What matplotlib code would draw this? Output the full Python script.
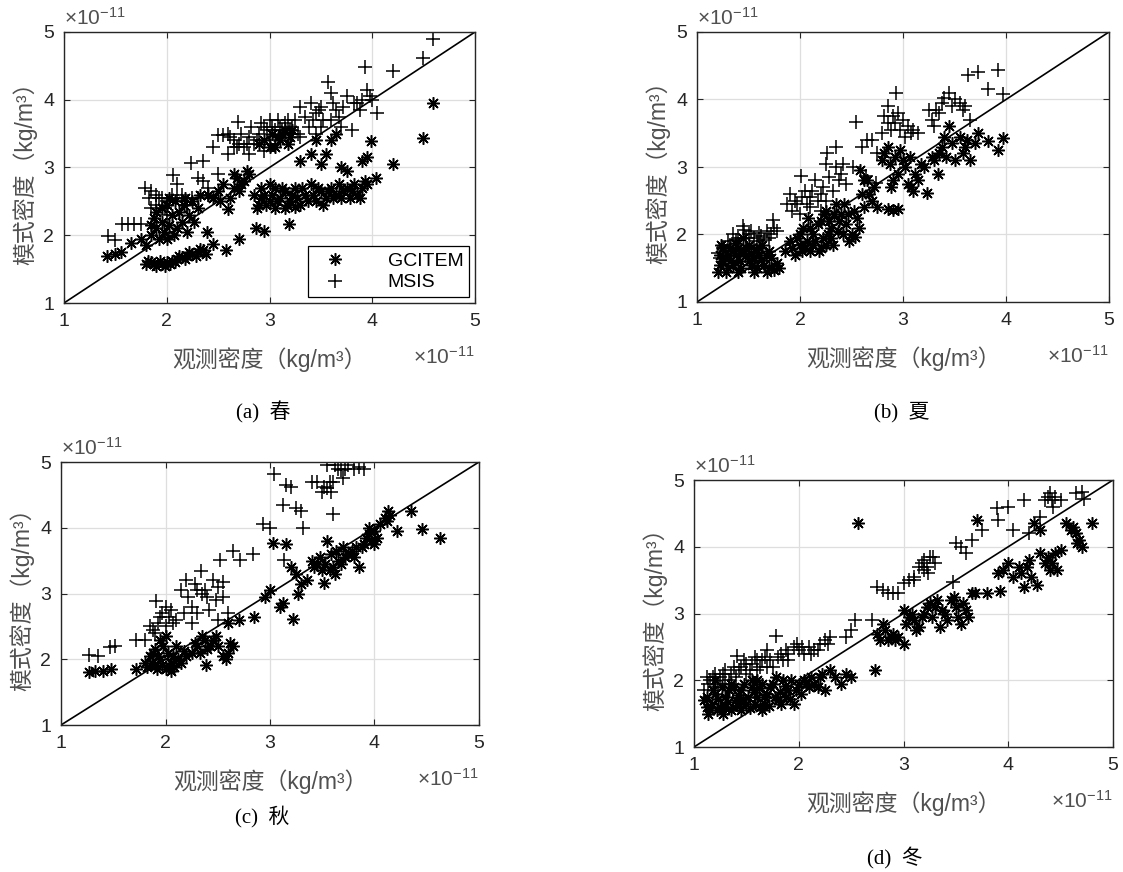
"""
Model vs observed thermospheric density, four seasons (scatter + y=x line).
"""

import numpy as np
import matplotlib
matplotlib.use('Agg')
import matplotlib.pyplot as plt
from matplotlib.lines import Line2D

plt.rcParams['font.family'] = ['Liberation Sans', 'Noto Sans CJK SC', 'DejaVu Sans']
plt.rcParams['axes.unicode_minus'] = False

# values in units of 1e-11 kg/m^3, (observed, model)
spring_gcitem = np.array([
    (1.42, 1.70), (1.50, 1.72), (1.55, 1.75), (1.65, 1.88), (1.75, 1.95),
    (1.80, 1.58), (1.85, 1.60), (1.90, 1.55), (1.95, 1.58), (2.00, 1.60), (2.05, 1.62),
    (2.10, 1.65), (2.15, 1.68), (2.20, 1.70), (2.25, 1.72), (2.30, 1.75), (2.35, 1.78),
    (2.39, 2.05), (2.45, 1.87), (2.58, 1.78), (2.70, 1.95), (2.87, 2.10), (2.95, 2.07),
    (3.19, 2.16), (1.85, 2.00), (1.90, 2.10), (1.95, 2.20), (2.00, 1.95), (2.05, 2.30),
    (2.10, 2.10), (2.15, 2.20), (2.20, 2.05), (2.25, 2.50), (1.90, 2.35), (2.00, 2.45),
    (2.30, 2.40), (2.40, 2.60), (2.50, 2.65), (2.55, 2.75), (2.60, 2.39), (2.65, 2.90),
    (2.70, 2.65), (2.75, 2.80), (2.80, 2.90), (2.85, 2.60), (2.90, 2.45), (2.95, 2.60),
    (3.00, 2.50), (3.05, 2.70), (3.10, 2.55), (3.15, 2.65), (3.20, 2.50), (3.25, 2.70),
    (3.30, 2.45), (3.35, 2.60), (3.40, 2.75), (3.45, 2.50), (3.50, 2.65), (3.55, 2.55),
    (3.60, 2.70), (3.65, 2.60), (3.70, 2.55), (3.75, 2.70), (3.80, 2.65), (3.85, 2.60),
    (3.90, 2.70), (3.95, 2.75), (3.15, 3.55), (3.10, 3.40), (3.05, 3.30), (3.20, 3.45),
    (3.00, 3.30), (2.90, 3.35), (3.30, 3.10), (3.40, 3.20), (3.45, 3.40), (3.50, 3.05),
    (3.55, 3.20), (3.60, 3.40), (3.65, 3.50), (3.70, 3.00), (3.75, 2.95), (3.90, 3.10),
    (3.95, 3.15), (3.99, 3.39), (4.04, 2.85), (4.20, 3.05), (4.49, 3.44), (4.59, 3.95),
    (1.82, 1.62), (1.88, 1.57), (1.93, 1.62), (1.98, 1.55), (2.03, 1.58), (2.08, 1.60),
    (2.12, 1.70), (2.18, 1.65), (2.22, 1.75), (2.28, 1.70), (2.32, 1.80), (2.38, 1.72),
    (1.80, 1.85), (1.85, 2.15), (1.88, 2.25), (1.92, 1.95), (1.97, 2.05), (2.02, 2.15),
    (2.07, 2.00), (2.12, 2.35), (2.17, 2.45), (2.22, 2.30), (2.27, 2.20), (2.32, 2.60),
    (2.18, 2.55), (2.08, 2.50), (1.95, 2.40), (2.02, 2.55), (2.62, 2.55), (2.65, 2.70),
    (2.68, 2.85), (2.72, 2.75), (2.78, 2.95), (2.45, 2.55), (2.52, 2.50), (2.92, 2.55),
    (2.97, 2.45), (3.02, 2.60), (3.07, 2.50), (3.12, 2.70), (3.17, 2.45), (3.22, 2.60),
    (3.27, 2.55), (3.32, 2.70), (3.37, 2.50), (3.42, 2.60), (3.47, 2.70), (3.52, 2.45),
    (3.57, 2.65), (3.62, 2.55), (3.68, 2.75), (3.72, 2.65), (3.78, 2.55), (3.82, 2.75),
    (3.88, 2.55), (3.93, 2.80), (3.05, 2.40), (3.15, 2.40), (3.25, 2.42), (2.88, 2.40),
    (2.92, 2.70), (3.00, 2.75), (3.08, 3.45), (3.12, 3.50), (3.18, 3.35), (3.22, 3.55),
    (2.95, 3.40), (3.02, 3.50),
])
spring_msis = np.array([
    (1.43, 1.99), (1.50, 1.93), (1.56, 2.17), (1.62, 2.17), (1.68, 2.17), (1.75, 2.17),
    (1.79, 2.70), (1.85, 2.65), (1.90, 2.60), (1.95, 2.55), (2.00, 2.50), (2.06, 2.89),
    (2.10, 2.75), (2.15, 2.60), (2.20, 2.45), (2.24, 3.07), (2.30, 2.85), (2.35, 3.10),
    (2.35, 2.80), (2.40, 2.70), (2.45, 3.30), (2.50, 3.48), (2.55, 3.48), (2.60, 3.50),
    (2.65, 3.40), (2.69, 3.67), (2.75, 3.30), (2.80, 3.20), (2.85, 3.35), (2.90, 3.50),
    (2.95, 3.60), (3.00, 3.70), (3.05, 3.55), (3.10, 3.60), (3.15, 3.50), (3.20, 3.55),
    (3.25, 3.70), (3.30, 3.90), (3.35, 3.75), (3.40, 3.95), (3.45, 3.80), (3.50, 3.90),
    (3.57, 4.26), (3.60, 4.10), (3.65, 3.85), (3.70, 3.60), (3.75, 4.05), (3.80, 3.55),
    (3.85, 3.95), (3.90, 4.00), (3.93, 4.48), (3.95, 4.15), (4.00, 4.00), (4.05, 3.80),
    (4.20, 4.43), (4.49, 4.62), (4.59, 4.90), (1.85, 2.40), (1.90, 2.45), (2.00, 2.30),
    (2.10, 2.55), (2.20, 2.45), (2.30, 2.55), (2.40, 2.60), (2.50, 2.90), (2.60, 3.20),
    (2.70, 3.35), (2.80, 3.45), (3.00, 3.40), (3.30, 3.45), (3.45, 3.50), (3.50, 3.60),
    (3.60, 3.70), (2.65, 3.30), (2.95, 3.25), (3.15, 3.65), (1.92, 2.55), (1.98, 2.40),
    (2.05, 2.60), (2.15, 2.50), (2.25, 2.55), (1.83, 2.55), (2.62, 3.45), (2.68, 3.30),
    (2.72, 3.50), (2.78, 3.35), (2.82, 3.60), (2.88, 3.40), (2.92, 3.65), (2.98, 3.55),
    (3.02, 3.60), (3.08, 3.70), (3.12, 3.55), (3.18, 3.70), (3.22, 3.60), (3.28, 3.50),
    (3.38, 3.60), (3.42, 3.70), (3.48, 3.85), (3.52, 3.70), (3.62, 3.95), (3.68, 3.75),
    (3.72, 3.90), (3.82, 3.95), (3.88, 3.85), (3.98, 4.05),
])

summer_gcitem = np.array([
    (1.20, 1.45), (1.25, 1.60), (1.30, 1.70), (1.35, 1.55), (1.40, 1.45), (1.45, 1.75),
    (1.50, 1.60), (1.55, 1.45), (1.60, 1.70), (1.65, 1.55), (1.70, 1.50), (1.75, 1.48),
    (1.80, 1.50), (1.25, 1.80), (1.40, 1.80), (1.50, 1.85), (1.60, 1.80), (1.70, 1.75),
    (1.30, 1.50), (1.55, 1.65), (1.22, 1.70), (1.35, 1.75), (1.85, 1.75), (1.90, 1.90),
    (1.95, 1.70), (2.00, 1.85), (2.05, 1.80), (2.10, 1.75), (2.15, 1.90), (2.20, 1.80),
    (2.25, 1.85), (2.30, 1.95), (2.00, 2.00), (2.10, 2.10), (2.20, 2.20), (2.25, 2.35),
    (2.30, 2.10), (2.35, 2.45), (2.40, 2.30), (2.45, 2.15), (2.50, 2.00), (2.53, 1.96),
    (2.55, 2.25), (2.60, 2.60), (2.65, 2.80), (2.70, 2.50), (2.75, 2.40), (2.85, 2.38),
    (2.90, 2.37), (2.95, 2.38), (2.80, 3.10), (2.85, 3.30), (2.90, 2.80), (2.95, 2.90),
    (3.00, 3.10), (3.05, 2.75), (3.10, 2.65), (3.15, 2.80), (3.20, 3.00), (3.23, 2.62),
    (3.30, 3.10), (3.34, 2.90), (3.35, 3.20), (3.40, 3.45), (3.45, 3.60), (3.50, 3.10),
    (3.55, 3.45), (3.60, 3.30), (3.65, 3.10), (3.70, 3.35), (3.73, 3.50), (3.83, 3.38),
    (3.92, 3.25), (3.97, 3.43), (1.22, 1.55), (1.27, 1.65), (1.28, 1.45), (1.32, 1.80),
    (1.33, 1.62), (1.38, 1.70), (1.42, 1.60), (1.43, 1.50), (1.47, 1.68), (1.48, 1.80),
    (1.52, 1.72), (1.53, 1.55), (1.57, 1.78), (1.58, 1.50), (1.62, 1.62), (1.63, 1.85),
    (1.67, 1.70), (1.68, 1.45), (1.72, 1.65), (1.78, 1.58), (1.23, 1.85), (1.37, 1.88),
    (1.45, 1.95), (1.92, 1.80), (1.97, 1.95), (2.02, 1.75), (2.03, 2.10), (2.07, 1.90),
    (2.08, 2.25), (2.12, 1.85), (2.13, 2.00), (2.17, 2.15), (2.18, 1.75), (2.22, 1.95),
    (2.23, 2.30), (2.27, 2.00), (2.28, 2.20), (2.32, 1.85), (2.33, 2.30), (2.37, 2.05),
    (2.38, 2.20), (2.42, 2.00), (2.43, 2.45), (2.47, 2.30), (2.48, 1.90), (2.52, 2.35),
    (2.57, 2.10), (2.62, 2.40), (2.67, 2.60), (2.72, 2.70), (2.58, 2.95), (2.62, 2.80),
    (2.82, 3.20), (2.87, 3.05), (2.92, 3.15), (2.97, 3.25), (3.02, 3.00), (3.07, 3.15),
    (3.12, 2.90), (3.17, 3.05), (2.88, 2.70), (3.08, 2.70), (3.28, 3.15), (3.38, 3.30),
    (3.42, 3.15), (3.48, 3.35), (3.58, 3.20), (3.62, 3.40),
])
summer_msis = np.array([
    (1.20, 1.72), (1.25, 1.80), (1.30, 1.90), (1.35, 2.00), (1.40, 1.95), (1.46, 2.06),
    (1.45, 2.12), (1.50, 2.00), (1.55, 1.95), (1.60, 2.02), (1.65, 1.92), (1.70, 1.95),
    (1.74, 2.21), (1.75, 2.10), (1.87, 2.45), (1.90, 2.60), (1.95, 2.50), (2.01, 2.86),
    (2.05, 2.65), (2.10, 2.55), (2.15, 2.80), (2.20, 2.60), (2.25, 3.05), (2.26, 3.20),
    (2.35, 3.30), (2.35, 3.00), (2.40, 2.90), (2.45, 2.75), (2.00, 2.30), (2.10, 2.40),
    (2.20, 2.35), (2.25, 2.50), (2.51, 3.00), (2.64, 2.86), (2.74, 2.76), (2.54, 3.66),
    (2.60, 3.30), (2.65, 3.40), (2.70, 3.40), (2.75, 3.20), (2.80, 3.50), (2.85, 3.90),
    (2.90, 3.75), (2.93, 4.09), (3.00, 3.70), (3.05, 3.60), (3.10, 3.55), (3.15, 3.50),
    (2.85, 3.65), (2.95, 3.80), (3.25, 3.85), (3.30, 3.60), (3.35, 3.80), (3.40, 4.02),
    (3.45, 4.10), (3.50, 4.00), (3.55, 3.95), (3.60, 3.90), (3.65, 3.70), (3.63, 4.37),
    (3.73, 4.40), (3.83, 4.15), (3.92, 4.44), (3.97, 4.08), (1.22, 1.65), (1.28, 1.75),
    (1.32, 1.85), (1.38, 1.92), (1.42, 1.80), (1.48, 1.95), (1.52, 2.05), (1.58, 1.90),
    (1.62, 1.98), (1.68, 2.05), (1.72, 2.00), (1.78, 2.05), (1.92, 2.35), (1.97, 2.45),
    (2.02, 2.55), (2.07, 2.45), (2.12, 2.65), (2.17, 2.50), (2.22, 2.70), (2.28, 2.85),
    (2.32, 2.65), (2.38, 2.80), (2.42, 3.05), (2.82, 3.75), (2.88, 3.55), (2.92, 3.65),
    (2.97, 3.55), (3.02, 3.45), (3.08, 3.50), (3.28, 3.70), (3.32, 3.85), (3.38, 3.95),
    (3.48, 3.90), (3.58, 3.85),
])

autumn_gcitem = np.array([
    (1.27, 1.80), (1.33, 1.82), (1.40, 1.82), (1.48, 1.85), (1.72, 1.85), (1.80, 1.95),
    (1.85, 2.05), (1.90, 1.90), (1.95, 2.00), (2.00, 1.85), (2.02, 2.10), (2.05, 1.95),
    (2.10, 2.20), (1.90, 2.15), (1.95, 2.30), (2.00, 2.35), (2.05, 1.82), (2.15, 1.95),
    (2.20, 2.05), (2.25, 2.10), (2.30, 2.20), (2.35, 2.35), (2.40, 2.15), (2.39, 1.91),
    (2.45, 2.30), (2.50, 2.20), (2.55, 2.05), (2.60, 2.10), (2.65, 2.20), (2.60, 2.55),
    (2.70, 2.60), (2.85, 2.64), (2.95, 2.95), (3.00, 3.05), (3.03, 3.77), (3.15, 3.75),
    (3.10, 2.80), (3.12, 2.85), (3.22, 2.61), (3.20, 3.40), (3.25, 3.30), (3.30, 3.15),
    (3.35, 3.20), (3.27, 3.00), (3.40, 3.50), (3.45, 3.45), (3.50, 3.35), (3.52, 3.16),
    (3.55, 3.80), (3.60, 3.40), (3.65, 3.50), (3.70, 3.70), (3.75, 3.60), (3.80, 3.55),
    (3.85, 3.40), (3.90, 3.75), (3.95, 3.90), (4.00, 3.95), (4.00, 3.75), (3.95, 4.00),
    (4.10, 4.15), (4.15, 4.20), (4.22, 3.95), (4.35, 4.25), (4.45, 3.98), (4.63, 3.84),
    (1.82, 1.88), (1.87, 1.95), (1.88, 2.10), (1.92, 1.85), (1.93, 2.05), (1.97, 1.92),
    (1.98, 2.20), (2.03, 1.90), (2.07, 2.05), (2.08, 1.88), (2.12, 2.00), (2.18, 2.12),
    (2.28, 2.25), (2.33, 2.10), (2.38, 2.30), (2.43, 2.20), (2.48, 2.35), (2.58, 2.00),
    (2.62, 2.25), (3.42, 3.40), (3.48, 3.55), (3.53, 3.45), (3.57, 3.35), (3.58, 3.60),
    (3.62, 3.30), (3.63, 3.65), (3.68, 3.45), (3.72, 3.55), (3.78, 3.65), (3.82, 3.70),
    (3.88, 3.70), (3.92, 3.85), (3.97, 3.80), (4.02, 3.85), (4.05, 4.05), (4.12, 4.10),
    (4.13, 4.25),
])
autumn_msis = np.array([
    (1.27, 2.07), (1.35, 2.05), (1.47, 2.19), (1.52, 2.20), (1.72, 2.30), (1.80, 2.30),
    (1.85, 2.50), (1.90, 2.40), (1.91, 2.88), (1.95, 2.65), (2.00, 2.80), (2.05, 2.75),
    (2.10, 2.60), (2.00, 2.50), (2.15, 3.05), (2.20, 3.20), (2.25, 2.80), (2.30, 3.05),
    (2.34, 3.34), (2.35, 3.00), (2.40, 2.95), (2.45, 3.20), (2.50, 3.10), (2.55, 2.95),
    (2.55, 3.18), (2.60, 2.70), (2.25, 2.55), (2.30, 2.70), (2.50, 2.60), (2.52, 3.51),
    (2.65, 3.64), (2.71, 3.51), (2.84, 3.60), (2.93, 4.06), (3.00, 4.00), (3.04, 4.81),
    (3.12, 4.35), (3.15, 4.65), (3.20, 4.62), (3.25, 4.30), (3.30, 4.25), (3.32, 4.00),
    (3.13, 3.51), (3.40, 4.70), (3.45, 4.70), (3.50, 4.55), (3.55, 4.95), (3.55, 4.60),
    (3.60, 4.70), (3.60, 4.21), (3.65, 4.90), (3.70, 4.75), (3.75, 4.95), (3.80, 4.90),
    (3.90, 4.90), (1.88, 2.45), (1.93, 2.55), (1.97, 2.70), (2.03, 2.65), (2.07, 2.55),
    (2.18, 2.70), (2.22, 2.95), (2.28, 3.15), (2.38, 3.05), (2.42, 2.75), (2.48, 2.90),
    (3.52, 4.62), (3.57, 4.70), (3.62, 4.95), (3.68, 4.88), (3.72, 4.90), (3.85, 4.92),
    (3.58, 4.55),
])

winter_gcitem = np.array([
    (1.10, 1.70), (1.15, 1.55), (1.20, 1.80), (1.25, 1.60), (1.30, 1.75), (1.35, 1.55),
    (1.40, 1.70), (1.45, 1.85), (1.50, 1.65), (1.55, 1.90), (1.60, 1.75), (1.65, 1.55),
    (1.70, 1.80), (1.75, 1.95), (1.80, 1.70), (1.85, 2.00), (1.90, 1.85), (1.95, 1.65),
    (2.00, 1.95), (2.05, 2.00), (2.10, 1.90), (1.20, 2.00), (1.30, 1.60), (1.45, 1.55),
    (1.60, 2.00), (1.12, 1.60), (1.38, 1.90), (1.52, 1.75), (1.68, 1.65), (1.88, 1.75),
    (2.15, 1.95), (2.20, 2.05), (2.25, 1.85), (2.30, 2.15), (2.45, 2.10), (2.50, 2.05),
    (2.73, 2.16), (2.57, 4.36), (2.75, 2.70), (2.80, 2.85), (2.85, 2.60), (2.90, 2.70),
    (2.95, 2.65), (3.00, 2.55), (3.00, 3.05), (3.05, 2.95), (3.10, 2.90), (3.15, 2.80),
    (3.20, 3.00), (3.25, 3.15), (3.30, 3.10), (3.35, 2.80), (3.40, 3.00), (3.45, 3.20),
    (3.50, 3.10), (3.55, 2.85), (3.60, 3.05), (3.65, 3.30), (3.80, 3.30), (3.92, 3.33),
    (3.70, 4.40), (3.90, 3.60), (3.95, 3.65), (4.00, 3.75), (4.05, 3.55), (4.10, 3.70),
    (4.15, 3.40), (4.20, 3.80), (4.27, 3.42), (4.30, 3.90), (4.35, 3.75), (4.40, 3.65),
    (4.45, 3.90), (4.50, 3.95), (4.25, 4.35), (4.30, 4.25), (4.55, 4.35), (4.60, 4.25),
    (4.65, 4.20), (4.70, 4.00), (4.68, 4.10), (4.80, 4.35), (1.12, 1.75), (1.13, 1.50),
    (1.17, 1.65), (1.18, 1.85), (1.22, 1.55), (1.23, 1.72), (1.27, 1.90), (1.28, 1.50),
    (1.32, 1.68), (1.33, 1.85), (1.37, 1.60), (1.42, 1.78), (1.43, 1.62), (1.47, 1.72),
    (1.48, 1.95), (1.53, 1.58), (1.57, 1.82), (1.58, 1.65), (1.62, 1.88), (1.63, 1.60),
    (1.67, 1.75), (1.72, 1.62), (1.73, 1.90), (1.77, 1.75), (1.78, 2.05), (1.82, 1.82),
    (1.83, 1.65), (1.87, 1.92), (1.92, 1.72), (1.93, 2.00), (1.97, 1.85), (2.02, 1.80),
    (2.07, 1.95), (2.12, 2.05), (1.35, 1.95), (1.55, 2.00), (1.65, 1.95), (2.18, 1.90),
    (2.22, 2.10), (2.35, 2.05), (2.40, 1.95), (2.78, 2.60), (2.82, 2.75), (2.88, 2.65),
    (2.92, 2.60), (3.02, 2.85), (3.08, 3.00), (3.12, 2.75), (3.18, 2.95), (3.22, 3.10),
    (3.27, 2.95), (3.32, 3.20), (3.37, 3.05), (3.42, 2.90), (3.48, 3.25), (3.52, 2.95),
    (3.57, 3.15), (3.62, 2.95), (3.68, 3.30), (4.12, 3.60), (4.18, 3.70), (4.22, 3.55),
    (4.38, 3.85), (4.42, 3.75), (4.47, 3.65), (4.62, 4.30), (4.66, 4.05),
])
winter_msis = np.array([
    (1.10, 1.85), (1.15, 2.00), (1.20, 1.90), (1.25, 2.05), (1.30, 1.95), (1.35, 2.10),
    (1.41, 2.36), (1.45, 2.20), (1.50, 2.10), (1.55, 2.25), (1.60, 2.15), (1.65, 2.30),
    (1.70, 2.45), (1.75, 2.20), (1.78, 2.66), (1.80, 2.35), (1.85, 2.30), (1.90, 2.40),
    (1.95, 2.50), (2.00, 2.45), (2.05, 2.40), (2.10, 2.50), (2.15, 2.45), (2.20, 2.55),
    (2.25, 2.60), (2.30, 2.65), (2.45, 2.65), (2.50, 2.75), (2.54, 2.91), (2.70, 2.90),
    (1.12, 2.05), (1.20, 2.10), (1.30, 2.15), (1.40, 2.05), (1.50, 2.25), (1.60, 2.30),
    (1.70, 2.20), (1.90, 2.30), (2.75, 3.40), (2.80, 3.35), (2.85, 3.30), (2.90, 3.30),
    (2.95, 3.30), (3.00, 3.45), (3.05, 3.50), (3.10, 3.55), (3.15, 3.70), (3.20, 3.80),
    (3.25, 3.85), (3.30, 3.75), (3.10, 3.50), (3.20, 3.65), (3.47, 3.47), (3.50, 4.05),
    (3.55, 4.00), (3.60, 3.90), (3.65, 4.10), (3.75, 4.25), (3.89, 4.58), (3.90, 4.40),
    (4.00, 4.60), (4.05, 4.25), (4.15, 4.70), (4.20, 4.20), (4.30, 4.45), (4.35, 4.70),
    (4.40, 4.80), (4.45, 4.75), (4.50, 4.70), (4.65, 4.80), (4.70, 4.82), (4.72, 4.72),
    (1.13, 1.95), (1.18, 2.05), (1.23, 1.95), (1.28, 2.10), (1.33, 2.00), (1.38, 2.20),
    (1.43, 2.15), (1.48, 2.30), (1.53, 2.15), (1.58, 2.35), (1.63, 2.20), (1.68, 2.35),
    (1.73, 2.30), (1.83, 2.40), (1.88, 2.45), (1.98, 2.55), (2.03, 2.50), (2.12, 2.40),
    (2.18, 2.45), (2.28, 2.55), (3.18, 3.75), (3.22, 3.70), (3.28, 3.85), (3.23, 3.60),
    (4.38, 4.75), (4.42, 4.70), (4.43, 4.60),
])

captions = ['(a)  春', '(b)  夏', '(c)  秋', '(d)  冬']
series_names = ['GCITEM', 'MSIS']
axis_lims = [1, 5]
tick_vals = [1, 2, 3, 4, 5]
xlabel = '观测密度（kg/m³）'
ylabel = '模式密度（kg/m³）'
offset_txt = r'$\mathregular{\times10^{-11}}$'

W, H = 1123, 872
# panel boxes in pixels: left, right, top, bottom; caption centre
panels = [
    (64, 475, 32, 303, spring_gcitem, spring_msis, (263, 412)),
    (697, 1109, 32, 302, summer_gcitem, summer_msis, (902, 412)),
    (61, 479, 462, 725, autumn_gcitem, autumn_msis, (262, 817)),
    (694, 1113, 480, 747, winter_gcitem, winter_msis, (895, 858)),
]

ASTERISK = (8, 2, 0)
TICK_C = '#262626'
LABEL_C = '#505050'
MK = dict(linestyle='none', color='k', mew=1.1)

fig = plt.figure(figsize=(W / 100, H / 100), dpi=100)

for i, (l, r, t, b, gc, ms, cap) in enumerate(panels):
    ax = fig.add_axes([l / W, 1 - b / H, (r - l) / W, (b - t) / H])
    ax.plot(gc[:, 0], gc[:, 1], marker=ASTERISK, ms=9, label=series_names[0], **MK)
    ax.plot(ms[:, 0], ms[:, 1], marker='+', ms=10, label=series_names[1], **MK)
    ax.plot(axis_lims, axis_lims, color='k', lw=1.2)

    ax.set_xlim(axis_lims)
    ax.set_ylim(axis_lims)
    ax.set_xticks(tick_vals)
    ax.set_yticks(tick_vals)
    ax.grid(True, color='#dedede', lw=0.9)
    ax.set_axisbelow(True)
    ax.tick_params(direction='in', length=4, width=0.8, top=True, right=True,
                   labelsize=14, colors=TICK_C, pad=7)
    for sp in ax.spines.values():
        sp.set_color(TICK_C)
        sp.set_linewidth(1.0)

    wpx, hpx = r - l, b - t
    ax.set_xlabel(xlabel, fontsize=16.5, color=LABEL_C)
    ax.xaxis.set_label_coords(0.5, -44 / hpx)
    ax.set_ylabel(ylabel, fontsize=16.5, color=LABEL_C)
    ax.yaxis.set_label_coords(-27 / wpx, 0.5)

    ax.text(0.0, 1 + 3 / hpx, offset_txt, transform=ax.transAxes,
            ha='left', va='bottom', fontsize=15, color=LABEL_C)
    ax.text(1.0, -43 / hpx, offset_txt, transform=ax.transAxes,
            ha='right', va='top', fontsize=15, color=LABEL_C)

    fig.text(cap[0] / W, 1 - cap[1] / H, captions[i], ha='center', va='center',
             fontsize=15, family=['Liberation Serif', 'Noto Sans CJK SC'])

    if i == 0:
        handles = [Line2D([], [], marker=ASTERISK, ms=9, **MK),
                   Line2D([], [], marker='+', ms=10, **MK)]
        leg = ax.legend(handles, series_names, loc='lower right', fontsize=14,
                        fancybox=False, framealpha=1, edgecolor='k',
                        borderaxespad=0.3, handlelength=2.2, handletextpad=1.6,
                        borderpad=0.3, labelspacing=0.2)
        leg.get_frame().set_linewidth(0.9)

fig.savefig('out.png', dpi=100)
